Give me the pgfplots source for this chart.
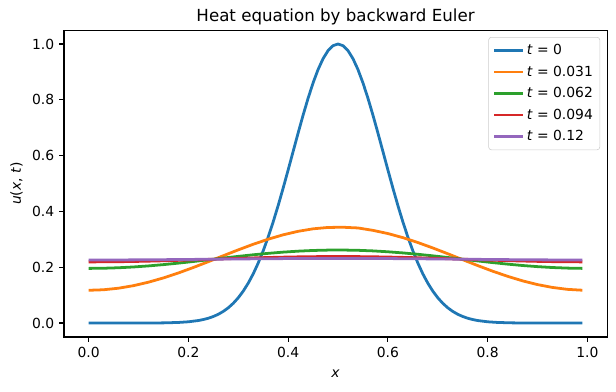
\documentclass[border=0pt]{standalone}
\usepackage{fontspec}
\setmainfont{DejaVu Sans}
\usepackage{pgfplots}
\pgfplotsset{compat=1.18}
\definecolor{c0}{HTML}{1F77B4}
\definecolor{c1}{HTML}{FF7F0E}
\definecolor{c2}{HTML}{2CA02C}
\definecolor{c3}{HTML}{D62728}
\definecolor{c4}{HTML}{9467BD}
\begin{document}
\begin{tikzpicture}
\begin{axis}[
  scale only axis, width=391pt, height=221pt,
  xmin=-0.0495, xmax=1.0395, ymin=-0.05, ymax=1.05,
  xtick={0,0.2,0.4,0.6,0.8,1.0}, ytick={0,0.2,0.4,0.6,0.8,1.0},
  tick pos=left,
  tick align=outside, major tick length=3.5pt,
  tick style={black, line width=0.8pt},
  axis line style={line width=0.8pt},
  every tick label/.append style={font=\fontsize{10}{12}\selectfont},
  /pgf/number format/assume math mode=true,
  xticklabel style={/pgf/number format/.cd, fixed, fixed zerofill, precision=1},
  yticklabel style={/pgf/number format/.cd, fixed, fixed zerofill, precision=1},
  title={Heat equation by backward Euler},
  title style={font=\fontsize{12}{14}\selectfont, yshift=-6pt},
  xlabel={\textit{x}}, ylabel={\textit{u}(\textit{x}, \textit{t})},
  xlabel style={yshift=-2pt},
  label style={font=\fontsize{10}{12}\selectfont},
  legend cell align=left,
  legend style={at={(1,1)}, anchor=north east, xshift=-5pt, yshift=-5pt,
    draw=black!20, rounded corners=2pt, font=\fontsize{10}{12}\selectfont,
    row sep=2.6pt, inner sep=3pt},
  legend image code/.code={\draw[#1, line width=2pt] (0cm,0cm) -- (0.72cm,0cm);},
  every axis plot/.append style={line width=2pt, line join=round},
]
\coordinate (ll) at (rel axis cs:0,0);
\addplot[c0] coordinates {
(0,0) (0.05,0.000005) (0.10,0.00007) (0.15,0.00064) (0.18,0.00215) (0.20,0.00452)
(0.22,0.00906) (0.23,0.01260) (0.24,0.01732) (0.25,0.02352) (0.26,0.03156)
(0.27,0.04183) (0.28,0.05479) (0.29,0.07093) (0.30,0.09072) (0.31,0.11466)
(0.32,0.14313) (0.33,0.17655) (0.34,0.21524) (0.35,0.25924) (0.36,0.30852)
(0.37,0.36278) (0.38,0.42147) (0.39,0.48384) (0.40,0.54881) (0.41,0.61510)
(0.42,0.68111) (0.43,0.74527) (0.44,0.80574) (0.45,0.86071) (0.46,0.90846)
(0.47,0.94743) (0.48,0.97629) (0.49,0.99402) (0.50,1.00000) (0.51,0.99402)
(0.52,0.97629) (0.53,0.94743) (0.54,0.90846) (0.55,0.86071) (0.56,0.80574)
(0.57,0.74527) (0.58,0.68111) (0.59,0.61510) (0.60,0.54881) (0.61,0.48384)
(0.62,0.42147) (0.63,0.36278) (0.64,0.30852) (0.65,0.25924) (0.66,0.21524)
(0.67,0.17655) (0.68,0.14313) (0.69,0.11466) (0.70,0.09072) (0.71,0.07093)
(0.72,0.05479) (0.73,0.04183) (0.74,0.03156) (0.75,0.02352) (0.76,0.01732)
(0.77,0.01260) (0.78,0.00906) (0.80,0.00452) (0.82,0.00215) (0.85,0.00064)
(0.90,0.00007) (0.95,0.000005) (0.99,0)
};
\addlegendentry{\textit{t} = 0}
\addplot[c1] coordinates {
(0,0.11745) (0.03,0.11933) (0.06,0.12493) (0.09,0.13407) (0.12,0.14650)
(0.15,0.16182) (0.18,0.17959) (0.21,0.19920) (0.24,0.22001) (0.27,0.24132)
(0.30,0.26235) (0.33,0.28235) (0.36,0.30054) (0.39,0.31623) (0.42,0.32878)
(0.45,0.33770) (0.48,0.34261) (0.51,0.34332) (0.54,0.34079) (0.57,0.33217)
(0.60,0.32079) (0.63,0.30608) (0.66,0.28866) (0.69,0.26918) (0.72,0.24840)
(0.75,0.22710) (0.78,0.20604) (0.81,0.18594) (0.84,0.16750) (0.87,0.15130)
(0.90,0.13787) (0.93,0.12759) (0.96,0.12079) (0.99,0.11766)
};
\addlegendentry{\textit{t} = 0.031}
\addplot[c2] coordinates {
(0,0.19588) (0.03,0.19646) (0.06,0.19819) (0.09,0.20100) (0.12,0.20480)
(0.15,0.20945) (0.18,0.21478) (0.21,0.22061) (0.24,0.22673) (0.27,0.23293)
(0.30,0.23897) (0.33,0.24466) (0.36,0.24978) (0.39,0.25417) (0.42,0.25765)
(0.45,0.26011) (0.48,0.26146) (0.51,0.26166) (0.54,0.26069) (0.57,0.25859)
(0.60,0.25543) (0.63,0.25134) (0.66,0.24644) (0.69,0.24092) (0.72,0.23497)
(0.75,0.22880) (0.78,0.22263) (0.81,0.21668) (0.84,0.21116) (0.87,0.20626)
(0.90,0.20217) (0.93,0.19901) (0.96,0.19691) (0.99,0.19594)
};
\addlegendentry{\textit{t} = 0.062}
\addplot[c3] coordinates {
(0,0.21921) (0.03,0.21938) (0.06,0.21988) (0.09,0.22070) (0.12,0.22181)
(0.15,0.22316) (0.18,0.22472) (0.21,0.22642) (0.24,0.22820) (0.27,0.23000)
(0.30,0.23176) (0.33,0.23342) (0.36,0.23491) (0.39,0.23619) (0.42,0.23720)
(0.45,0.23792) (0.48,0.23831) (0.51,0.23837) (0.54,0.23809) (0.57,0.23748)
(0.60,0.23656) (0.63,0.23536) (0.66,0.23394) (0.69,0.23233) (0.72,0.23060)
(0.75,0.22880) (0.78,0.22700) (0.81,0.22527) (0.84,0.22366) (0.87,0.22224)
(0.90,0.22104) (0.93,0.22012) (0.96,0.21951) (0.99,0.21923)
};
\addlegendentry{\textit{t} = 0.094}
\addplot[c4] coordinates {
(0,0.22601) (0.03,0.22606) (0.06,0.22621) (0.09,0.22644) (0.12,0.22677)
(0.15,0.22716) (0.18,0.22761) (0.21,0.22811) (0.24,0.22862) (0.27,0.22915)
(0.30,0.22966) (0.33,0.23014) (0.36,0.23058) (0.39,0.23095) (0.42,0.23124)
(0.45,0.23145) (0.48,0.23157) (0.51,0.23158) (0.54,0.23150) (0.57,0.23132)
(0.60,0.23106) (0.63,0.23071) (0.66,0.23029) (0.69,0.22983) (0.72,0.22932)
(0.75,0.22880) (0.78,0.22828) (0.81,0.22777) (0.84,0.22730) (0.87,0.22689)
(0.90,0.22654) (0.93,0.22628) (0.96,0.22610) (0.99,0.22602)
};
\addlegendentry{\textit{t} = 0.12}
\end{axis}
\pgfresetboundingbox
\path (ll) ++(-46.08pt,-38.88pt) rectangle ++(443.52pt,281.52pt);
\end{tikzpicture}
\end{document}
